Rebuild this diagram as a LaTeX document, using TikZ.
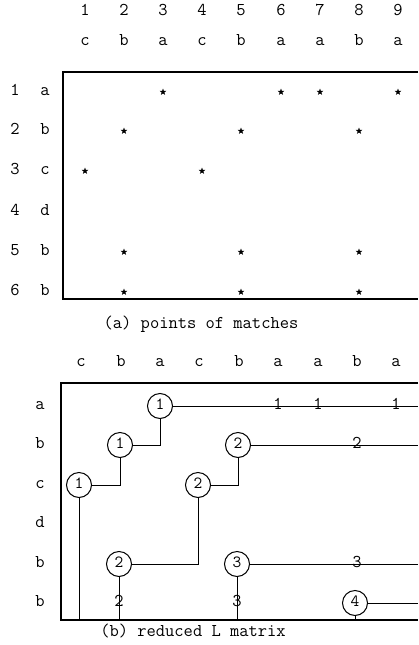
\documentclass[tikz,border=0pt]{standalone}
\usepackage{fontspec}
\usetikzlibrary{shapes.geometric}
\begin{document}
\begin{tikzpicture}[x=1pt,y=-1pt,
  lbl/.style={font=\ttfamily\fontsize{18}{18}\selectfont, inner sep=0pt, text height=0.6em, text depth=0pt},
  frame/.style={line width=1.4pt},
  link/.style={line width=0.9pt},
  hit/.style={star, star points=5, star point ratio=2.4, fill=black, inner sep=0pt, minimum size=7pt},
  ring/.style={circle, draw, line width=1pt, minimum size=25pt, inner sep=0pt,
    font=\ttfamily\fontsize{17}{17}\selectfont, text height=0.6em, text depth=0pt}]
\useasboundingbox (0,0) rectangle (418,645);

% ---------- (a) points of matches ----------
\foreach \x [count=\i] in {85,124,163,202,241,281,320,359,398}
  \node[lbl] (num\i) at (\x,13) {\i};
\foreach \c/\x [count=\i] in {c/85,b/124,a/163,c/202,b/241,a/281,a/320,b/359,a/398}
  \node[lbl] (ta\i) at (\x,42) {\c};
\foreach \c/\y [count=\i] in {a/92,b/131,c/171,d/212,b/252,b/292} {
  \node[lbl] (rn\i) at (15,\y) {\i};
  \node[lbl] (ra\i) at (45,\y) {\c};
}
\draw[frame] (418,72) -- (63,72) -- (63,299) -- (418,299);

% matches (column, row)
\foreach \col/\row [count=\k] in {3/1,6/1,7/1,9/1,2/2,5/2,8/2,1/3,4/3,2/5,5/5,8/5,2/6,5/6,8/6}
  \node[hit] (s\k) at (ta\col |- rn\row) {};

\node[lbl] (capa) at (201,325) {(a) points of matches};

% ---------- (b) reduced L matrix ----------
\foreach \c/\x [count=\i] in {c/81,b/121,a/160,c/199,b/239,a/278,a/318,b/357,a/396}
  \node[lbl] (tb\i) at (\x,363) {\c};
\foreach \c/\y [count=\i] in {a/406,b/445,c/485,d/524,b/564,b/603}
  \node[lbl] (rb\i) at (40,\y) {\c};
\draw[frame] (418,383) -- (61,383) -- (61,620) -- (418,620);
\coordinate (edge) at (418,620);

\node[ring] (A) at (160,406) {1};
\node[ring] (B) at (120,445) {1};
\node[ring] (C) at (79,485) {1};
\node[ring] (D) at (238,445) {2};
\node[ring] (E) at (198,485) {2};
\node[ring] (F) at (119,564) {2};
\node[ring] (G) at (237,564) {3};
\node[ring] (H) at (355,603) {4};

\draw[link] (A.east) -- (A.east -| edge);
\draw[link] (A.south) |- (B.east);
\draw[link] (B.south) |- (C.east);
\draw[link] (C.south) -- (C.south |- edge);
\draw[link] (D.east) -- (D.east -| edge);
\draw[link] (D.south) |- (E.east);
\draw[link] (E.south) |- (F.east);
\draw[link] (F.south) -- (F.south |- edge);
\draw[link] (G.east) -- (G.east -| edge);
\draw[link] (G.south) -- (G.south |- edge);
\draw[link] (H.east) -- (H.east -| edge);
\draw[link] (H.south) -- (H.south |- edge);

% values carried along the chains
\node[lbl] (v1) at (278,406) {1};
\node[lbl] (v2) at (318,406) {1};
\node[lbl] (v3) at (396,406) {1};
\node[lbl] (v4) at (357,445) {2};
\node[lbl] (v5) at (357,564) {3};
\node[lbl] (v6) at (119,603) {2};
\node[lbl] (v7) at (237,603) {3};

\node[lbl] (capb) at (193,633) {(b) reduced L matrix};
\end{tikzpicture}
\end{document}
